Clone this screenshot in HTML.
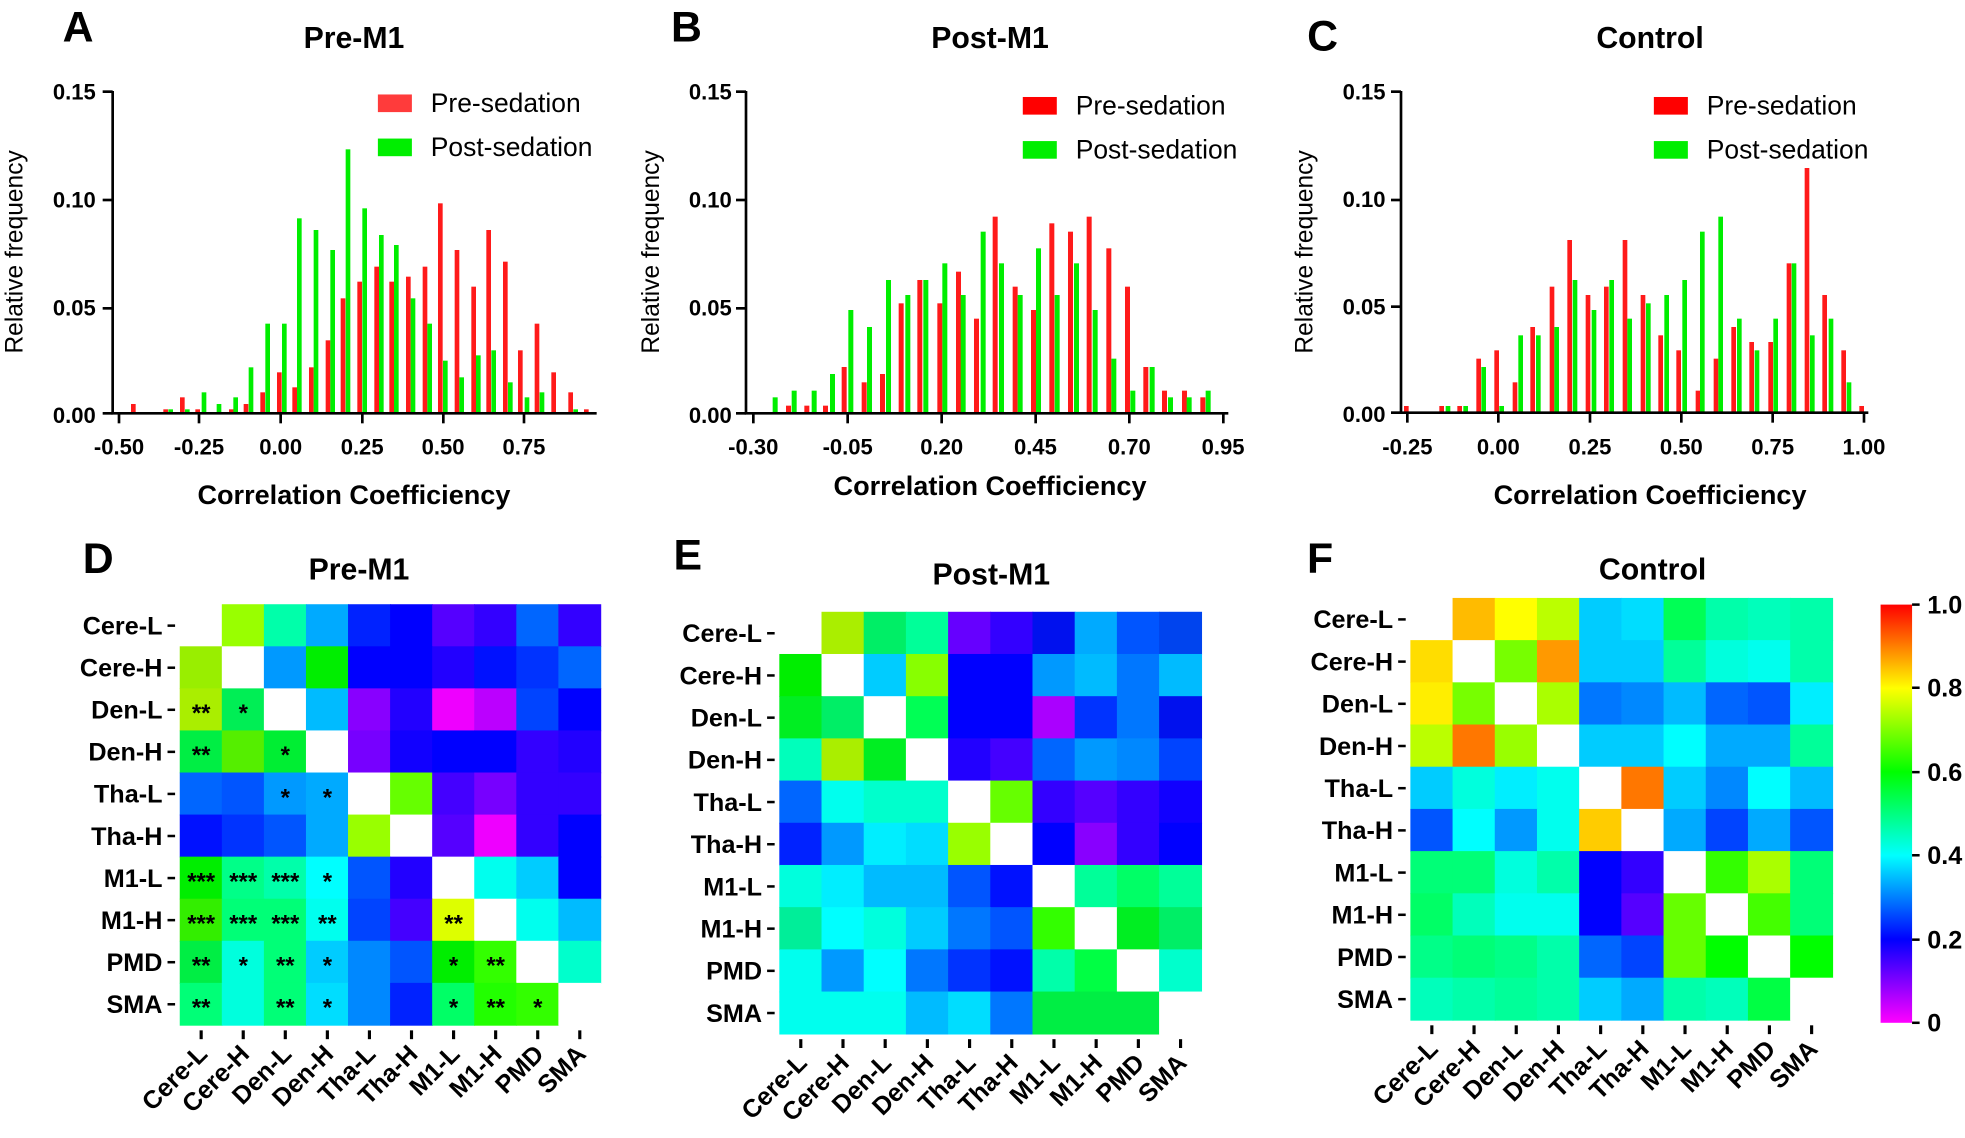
<!DOCTYPE html>
<html><head><meta charset="utf-8"><style>
html,body{margin:0;padding:0;background:#fff;}
svg{display:block;}
text{font-family:"Liberation Sans",Arial,sans-serif;}
</style></head><body>
<svg id="s" xmlns="http://www.w3.org/2000/svg" width="1965" height="1138" viewBox="0 0 1965 1138">
<defs><linearGradient id="cb" x1="0" y1="0" x2="0" y2="1">
<stop offset="0" stop-color="#ff0000"/><stop offset="0.2" stop-color="#ffff00"/><stop offset="0.4" stop-color="#00ff00"/><stop offset="0.6" stop-color="#00ffff"/><stop offset="0.8" stop-color="#0000ff"/><stop offset="1" stop-color="#ff00ff"/></linearGradient></defs>
<g id="hists"></g>
<g id="disp" transform="scale(1.2596)"></g>
</svg>
<script>
var NS="http://www.w3.org/2000/svg";
function el(p,t,a,txt){var e=document.createElementNS(NS,t);for(var k in a)e.setAttribute(k,a[k]);if(txt!==undefined)e.textContent=txt;p.appendChild(e);return e;}
var H=document.getElementById('hists'),D=document.getElementById('disp');
function hist(ox,oy,ax,base,right,yt,xt,red,green,w){
 var g=el(H,'g',{transform:'translate('+ox+','+oy+') scale(0.33333)'});
 red.forEach(function(b){el(g,'rect',{x:b[0],y:b[1],width:w,height:base-b[1],fill:'#ff1a1a'});});
 green.forEach(function(b){el(g,'rect',{x:b[0],y:b[1],width:w,height:base-b[1],fill:'#00ee00'});});
 el(g,'line',{x1:ax,y1:yt[0]-2,x2:ax,y2:base+3,stroke:'#000','stroke-width':8});
 el(g,'line',{x1:ax-4,y1:base,x2:right,y2:base,stroke:'#000','stroke-width':8});
 yt.forEach(function(y){el(g,'line',{x1:ax-30,y1:y,x2:ax,y2:y,stroke:'#000','stroke-width':8});});
 xt.forEach(function(x){el(g,'line',{x1:x,y1:base,x2:x,y2:base+30,stroke:'#000','stroke-width':8});});
}
hist(100,80,38,1000,1490,[35,360,685,1000],[57,297,542,787,1030,1272],
[[93,972],[190,988],[240,952],[286,988],[387,988],[431,972],[481,937],[531,877],[577,922],[627,862],[677,781],[722,655],[772,605],[823,560],[868,605],[918,590],[968,560],[1014,370],[1064,510],[1114,620],[1159,450],[1209,545],[1254,811],[1304,731],[1354,877],[1405,937],[1452,988]],
[[205,988],[255,988],[305,937],[350,972],[400,952],[446,862],[496,731],[546,731],[591,415],[641,450],[691,510],[737,208],[787,385],[837,465],[882,495],[932,655],[982,731],[1029,842],[1078,892],[1128,826],[1174,811],[1224,907],[1274,952],[1319,937],[1420,988]],14);
hist(740,80,18,1000,1465,[35,360,685,1000],[40,323,605,887,1168,1450],
[[138,977],[193,977],[249,977],[305,861],[365,907],[420,882],[476,670],[532,600],[592,670],[648,575],[702,716],[758,410],[818,620],[873,690],[928,430],[984,455],[1040,410],[1099,505],[1155,620],[1210,861],[1266,932],[1326,932],[1381,952]],
[[98,952],[155,932],[215,932],[270,882],[325,690],[381,741],[438,600],[496,645],[550,600],[607,550],[662,645],[722,455],[777,550],[833,645],[888,505],[944,645],[1002,550],[1058,690],[1114,836],[1171,932],[1229,861],[1284,952],[1340,952],[1397,932]],15);
hist(1370,80,93,998,1495,[35,360,680,998],[112,385,660,934,1208,1482],
[[102,978],[208,978],[262,978],[319,836],[373,811],[428,907],[481,741],[539,620],[592,480],[647,645],[702,620],[758,480],[812,645],[865,766],[919,811],[977,932],[1031,836],[1084,741],[1138,786],[1195,786],[1250,550],[1304,264],[1357,645],[1414,811],[1468,978]],
[[227,978],[280,978],[334,861],[388,978],[445,766],[498,766],[553,741],[608,600],[665,690],[718,600],[772,716],[828,670],[883,645],[937,600],[990,455],[1045,410],[1101,716],[1154,811],[1210,716],[1265,550],[1320,766],[1376,716],[1430,907]],14);

function T(x,y,s,o){o=o||{};var a={x:x,y:y,'font-size':o.fs||16,'font-weight':o.fw||'bold','text-anchor':o.a||'middle'};if(o.tr)a.transform=o.tr;return el(D,'text',a,s);}
[['A',62,33],['B',545,33],['C',1050,40],['D',78,455],['E',546,452],['F',1048,455]].forEach(function(l){T(l[1],l[2],l[0],{fs:34});});
T(281,38,'Pre-M1',{fs:24});T(786,38,'Post-M1',{fs:24});T(1310,38,'Control',{fs:24});
T(285,460,'Pre-M1',{fs:24});T(787,464,'Post-M1',{fs:24});T(1312,460,'Control',{fs:24});
var hs=[{ax:88,base:330,top:73,xl:[['-0.50',94.5],['-0.25',158],['0.00',222.8],['0.25',287.5],['0.50',351.8],['0.75',416]],xy:361,ct:281,cty:400,leg:300},
 {ax:593,base:330,top:73,xl:[['-0.30',598],['-0.05',673],['0.20',747.6],['0.45',822],['0.70',896.6],['0.95',971]],xy:361,ct:786,cty:393,leg:812},
 {ax:1112,base:329,top:73,xl:[['-0.25',1117.3],['0.00',1189.5],['0.25',1262.3],['0.50',1334.8],['0.75',1407.3],['1.00',1479.8]],xy:361,ct:1310,cty:400,leg:1313}];
hs.forEach(function(h,i){
 var ys=[[h.top,'0.15'],[h.top+(h.base-h.top)/3,'0.10'],[h.top+2*(h.base-h.top)/3,'0.05'],[h.base,'0.00']];
 ys.forEach(function(v){T(h.ax-12,v[0]+6,v[1],{a:'end',fs:17.5});});
 h.xl.forEach(function(v){T(v[1],h.xy,v[0],{fs:17.5});});
 T(h.ct,h.cty,'Correlation Coefficiency',{fs:21.5});
 var lx=h.ax-70;
 T(lx,200,'Relative frequency',{fs:19.5,fw:'normal',tr:'rotate(-90 '+lx+' 200)'});
 el(D,'rect',{x:h.leg,y:i==0?75:77,width:27,height:14,fill:i==0?'#ff3b3b':'#ff0000'});
 el(D,'rect',{x:h.leg,y:i==0?110:112,width:27,height:14,fill:'#00ee00'});
 T(h.leg+42,i==0?89:91,'Pre-sedation',{fs:21,fw:'normal',a:'start'});
 T(h.leg+42,i==0?124:126,'Post-sedation',{fs:21,fw:'normal',a:'start'});
});
var W='#ffffff';
var MD=[[W,'#99ff00','#00ffaa','#00aaff','#0022ff','#0000ff','#5500ff','#3300ff','#0066ff','#3300ff'],
['#99ee00',W,'#0099ff','#00ee00','#0000ff','#0000ff','#2200ff','#0011ff','#0033ff','#0066ff'],
['#aaee00','#00ee55',W,'#00bbff','#8800ff','#2200ff','#ee00ff','#bb00ff','#0044ff','#0000ff'],
['#00ee44','#55ee00','#00ee33',W,'#7700ff','#1100ff','#0000ff','#0000ff','#3300ff','#2200ff'],
['#0066ff','#0055ff','#0099ff','#00aaff',W,'#66ff00','#4400ff','#7700ff','#3300ff','#3300ff'],
['#0011ff','#0033ff','#0055ff','#00aaff','#99ff00',W,'#5500ff','#ee00ff','#3300ff','#0000ff'],
['#00ee00','#00ff88','#00ffaa','#00ffff','#0055ff','#2200ff',W,'#00ffee','#00ccff','#0000ff'],
['#33ee00','#00ff77','#00ff77','#00ffee','#0044ff','#4400ff','#ddff00',W,'#00ffee','#00bbff'],
['#00ee44','#00ffdd','#00ff77','#00ccff','#0088ff','#0055ff','#00ee00','#33ff00',W,'#00ffcc'],
['#00ff77','#00ffdd','#00ff77','#00ddff','#0088ff','#0022ff','#00ff66','#22ff00','#33ff00',W]];
var SD=[['','','','','','','','','',''],['','','','','','','','','',''],['**','*','','','','','','','',''],['**','','*','','','','','','',''],
['','','*','*','','','','','',''],['','','','','','','','','',''],['***','***','***','*','','','','','',''],['***','***','***','**','','','**','','',''],
['**','*','**','*','','','*','**','',''],['**','','**','*','','','*','**','*','']];
var ME=[[W,'#aaee00','#00ee66','#00ff99','#6600ff','#3300ff','#0011ee','#00aaff','#0055ff','#0044ee'],
['#00ee00',W,'#00ccff','#88ff00','#0000ff','#0000ff','#0099ff','#00bbff','#0077ff','#00bbff'],
['#00ee22','#00ee66',W,'#00ff55','#0000ff','#0000ff','#aa00ff','#0033ff','#0077ff','#0011ee'],
['#00ffbb','#aaee00','#00ee22',W,'#2200ff','#4400ff','#0066ff','#0099ff','#0088ff','#0044ff'],
['#0066ff','#00ffee','#00ffcc','#00ffcc',W,'#66ff00','#3300ff','#5500ff','#3300ff','#1100ff'],
['#0022ff','#0099ff','#00eeff','#00ddff','#99ff00',W,'#0000ff','#8800ff','#3300ff','#0000ff'],
['#00ffdd','#00eeff','#00bbff','#00bbff','#0055ff','#0011ff',W,'#00ff99','#00ff66','#00ff99'],
['#00ee99','#00ffff','#00ffdd','#00ccff','#0077ff','#0055ff','#33ff00',W,'#00ee22','#00ee66'],
['#00ffee','#0099ff','#00ffff','#0077ff','#0033ff','#0011ff','#00ffaa','#00ff44',W,'#00ffcc'],
['#00ffee','#00ffee','#00ffee','#00bbff','#00ddff','#0077ff','#00ee44','#00ee44','#00ee44',W]];
var MF=[[W,'#ffbb00','#ffff00','#bbff00','#00ccff','#00ddff','#00ff55','#00ffaa','#00ffbb','#00ffaa'],
['#ffdd00',W,'#77ff00','#ff9900','#00ccff','#00ccff','#00ff99','#00ffdd','#00ffee','#00ffaa'],
['#ffee00','#77ff00',W,'#aaff00','#0077ff','#0088ff','#00bbff','#0066ff','#0055ff','#00eeff'],
['#bbff00','#ff7700','#99ff00',W,'#00ccff','#00ccff','#00ffff','#00aaff','#00aaff','#00ff99'],
['#00ccff','#00ffdd','#00eeff','#00ffee',W,'#ff7700','#00ccff','#0088ff','#00ffff','#00bbff'],
['#0055ff','#00ffff','#0099ff','#00ffee','#ffcc00',W,'#00aaff','#0044ff','#00aaff','#0055ff'],
['#00ff77','#00ff77','#00ffdd','#00ffaa','#0000ff','#3300ff',W,'#33ff00','#aaff00','#00ff77'],
['#00ff66','#00ffbb','#00ffee','#00ffee','#0000ff','#5500ff','#66ff00',W,'#44ff00','#00ff77'],
['#00ff88','#00ff77','#00ff88','#00ffaa','#0066ff','#0044ff','#66ff00','#00ff00',W,'#00ff00'],
['#00ffbb','#00ffaa','#00ff99','#00ffaa','#00ccff','#00aaff','#00ffaa','#00ffbb','#00ff44',W]];
var labs=['Cere-L','Cere-H','Den-L','Den-H','Tha-L','Tha-H','M1-L','M1-H','PMD','SMA'];
function heat(x0,y0,c,M,S){
 for(var r=0;r<10;r++)for(var k=0;k<10;k++){
  el(D,'rect',{x:x0+k*c-0.3,y:y0+r*c-0.3,width:c+0.6,height:c+0.6,fill:M[r][k]});
  if(S&&S[r][k])T(x0+(k+0.5)*c,y0+(r+0.5)*c+9,S[r][k],{fs:19});
 }
 for(var i=0;i<10;i++){
  var cy=y0+(i+0.5)*c,cx=x0+(i+0.5)*c;
  T(x0-14,cy+7,labs[i],{fs:20,a:'end'});
  el(D,'line',{x1:x0-10,y1:cy,x2:x0-4,y2:cy,stroke:'#000','stroke-width':2});
  el(D,'line',{x1:cx,y1:y0+10*c+4,x2:cx,y2:y0+10*c+11,stroke:'#000','stroke-width':2.5});
  T(cx+6,y0+10*c+24,labs[i],{fs:20,a:'end',tr:'rotate(-45 '+(cx+6)+' '+(y0+10*c+24)+')'});
 }
}
heat(143,480,33.4,MD,SD);
heat(619,486,33.5,ME,null);
heat(1120,475,33.5,MF,null);
el(D,'rect',{x:1493,y:480,width:25,height:332,fill:'url(#cb)'});
[['1.0',480],['0.8',546],['0.6',613],['0.4',679],['0.2',746],['0',812]].forEach(function(v){
 el(D,'line',{x1:1518,y1:v[1],x2:1524,y2:v[1],stroke:'#000','stroke-width':2});
 T(1530,v[1]+7,v[0],{fs:20,a:'start'});});
</script>
</body></html>
